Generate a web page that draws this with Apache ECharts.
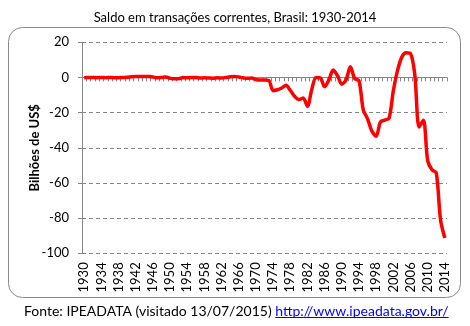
<!DOCTYPE html>
<html><head><meta charset="utf-8">
<script src="https://cdn.jsdelivr.net/npm/echarts@6/dist/echarts.min.js"></script>
<style>html,body{margin:0;padding:0;background:#fff}#c{width:470px;height:326px}</style>
</head><body><div id="c"></div>
<script>
const years = ['1930','1931','1932','1933','1934','1935','1936','1937','1938','1939',
'1940','1941','1942','1943','1944','1945','1946','1947','1948','1949',
'1950','1951','1952','1953','1954','1955','1956','1957','1958','1959',
'1960','1961','1962','1963','1964','1965','1966','1967','1968','1969',
'1970','1971','1972','1973','1974','1975','1976','1977','1978','1979',
'1980','1981','1982','1983','1984','1985','1986','1987','1988','1989',
'1990','1991','1992','1993','1994','1995','1996','1997','1998','1999',
'2000','2001','2002','2003','2004','2005','2006','2007','2008','2009',
'2010','2011','2012','2013','2014'];
const saldo = [-0.1,0.0,0.0,-0.1,0.0,-0.1,0.0,-0.1,-0.1,0.0,
0.1,0.4,0.6,0.6,0.6,0.5,0.3,-0.2,0.0,0.3,
-0.5,-0.7,-0.7,0.0,-0.2,0.0,0.0,-0.3,-0.2,-0.3,
-0.4,-0.2,-0.3,0.0,0.4,0.6,0.3,-0.2,-0.5,-0.3,
-1.2,-1.5,-1.5,-1.7,-7.5,-7.0,-6.0,-4.4,-7.3,-10.7,
-12.6,-11.7,-16.3,-6.8,0.0,-0.3,-5.3,-1.4,4.2,1.0,
-3.8,-1.4,6.1,-0.6,-1.8,-18.4,-23.5,-30.5,-33.4,-25.3,
-24.2,-23.2,-7.6,4.2,11.7,14.0,13.6,1.6,-28.2,-24.3,
-47.3,-52.5,-54.2,-81.1,-91.3];
const yTicks = {min:-100, max:20, interval:20};
const titleText = 'Saldo em transações correntes, Brasil: 1930-2014';
const yName = 'Bilhões de US$';
const srcText = 'Fonte: IPEADATA (visitado 13/07/2015) ';
const linkText = 'http://www.ipeadata.gov.br/';

const FONT = 'Lato, "Liberation Sans", Arial, sans-serif';
const ctx = document.createElement('canvas').getContext('2d');
ctx.font = '14px Lato';
const srcW = ctx.measureText(srcText).width;
const linkW = ctx.measureText(linkText).width;
const footX = 24, footY = 311;

const chart = echarts.init(document.getElementById('c'), null, {renderer:'canvas'});
const axisGray = '#868686';
chart.setOption({
  animation:false,
  backgroundColor:'#fff',
  title:{text:titleText, left:'center', top:6,
    textStyle:{fontFamily:FONT, fontSize:13, fontWeight:'normal', color:'#000'}},
  grid:{left:82, right:23, top:42.3, bottom:72.7, containLabel:false},
  xAxis:[{
    type:'category', data:years, boundaryGap:true,
    axisLine:{show:false, onZero:false}, axisTick:{show:false},
    axisLabel:{interval:3, rotate:90, margin:9, fontFamily:FONT, fontSize:13, color:'#000'},
    splitLine:{show:false}
  },{
    type:'category', data:years, boundaryGap:true, position:'bottom',
    axisLine:{show:true, onZero:true, lineStyle:{color:axisGray, width:1}},
    axisTick:{show:true, interval:0, length:4, lineStyle:{color:axisGray}},
    axisLabel:{show:false}, splitLine:{show:false}
  }],
  yAxis:{
    type:'value', min:yTicks.min, max:yTicks.max, interval:yTicks.interval,
    name:yName, nameLocation:'middle', nameGap:41, nameRotate:90, nameMoveOverlap:false,
    nameTextStyle:{fontFamily:FONT, fontSize:13, fontWeight:'bold', color:'#000'},
    axisLine:{show:true, lineStyle:{color:axisGray, width:1}},
    axisTick:{show:true, length:4, lineStyle:{color:axisGray}},
    axisLabel:{margin:13, fontFamily:FONT, fontSize:13, color:'#000'},
    splitLine:{show:true, lineStyle:{color:axisGray, type:[4,3], width:1}}
  },
  series:[{
    type:'line', data:saldo, xAxisIndex:0, smooth:0.3, symbol:'none',
    lineStyle:{color:'#ff0000', width:3.5}, z:5
  }],
  graphic:[
    {type:'rect', shape:{x:8.5, y:27.5, width:452, height:270, r:14}, z:-1,
     style:{fill:'none', stroke:'#8a8a8a', lineWidth:1}},
    {type:'text', x:footX, y:footY, style:{
      text:'{a|'+srcText+'}{b|'+linkText+'}', verticalAlign:'middle',
      rich:{a:{fontFamily:FONT, fontSize:14, fill:'#000'}, b:{fontFamily:FONT, fontSize:14, fill:'#0000ff'}}
    }},
    {type:'line', shape:{x1:footX+srcW, y1:footY+6.5, x2:footX+srcW+linkW, y2:footY+6.5},
     style:{stroke:'#0000ff', lineWidth:1}}
  ]
});
</script></body></html>
